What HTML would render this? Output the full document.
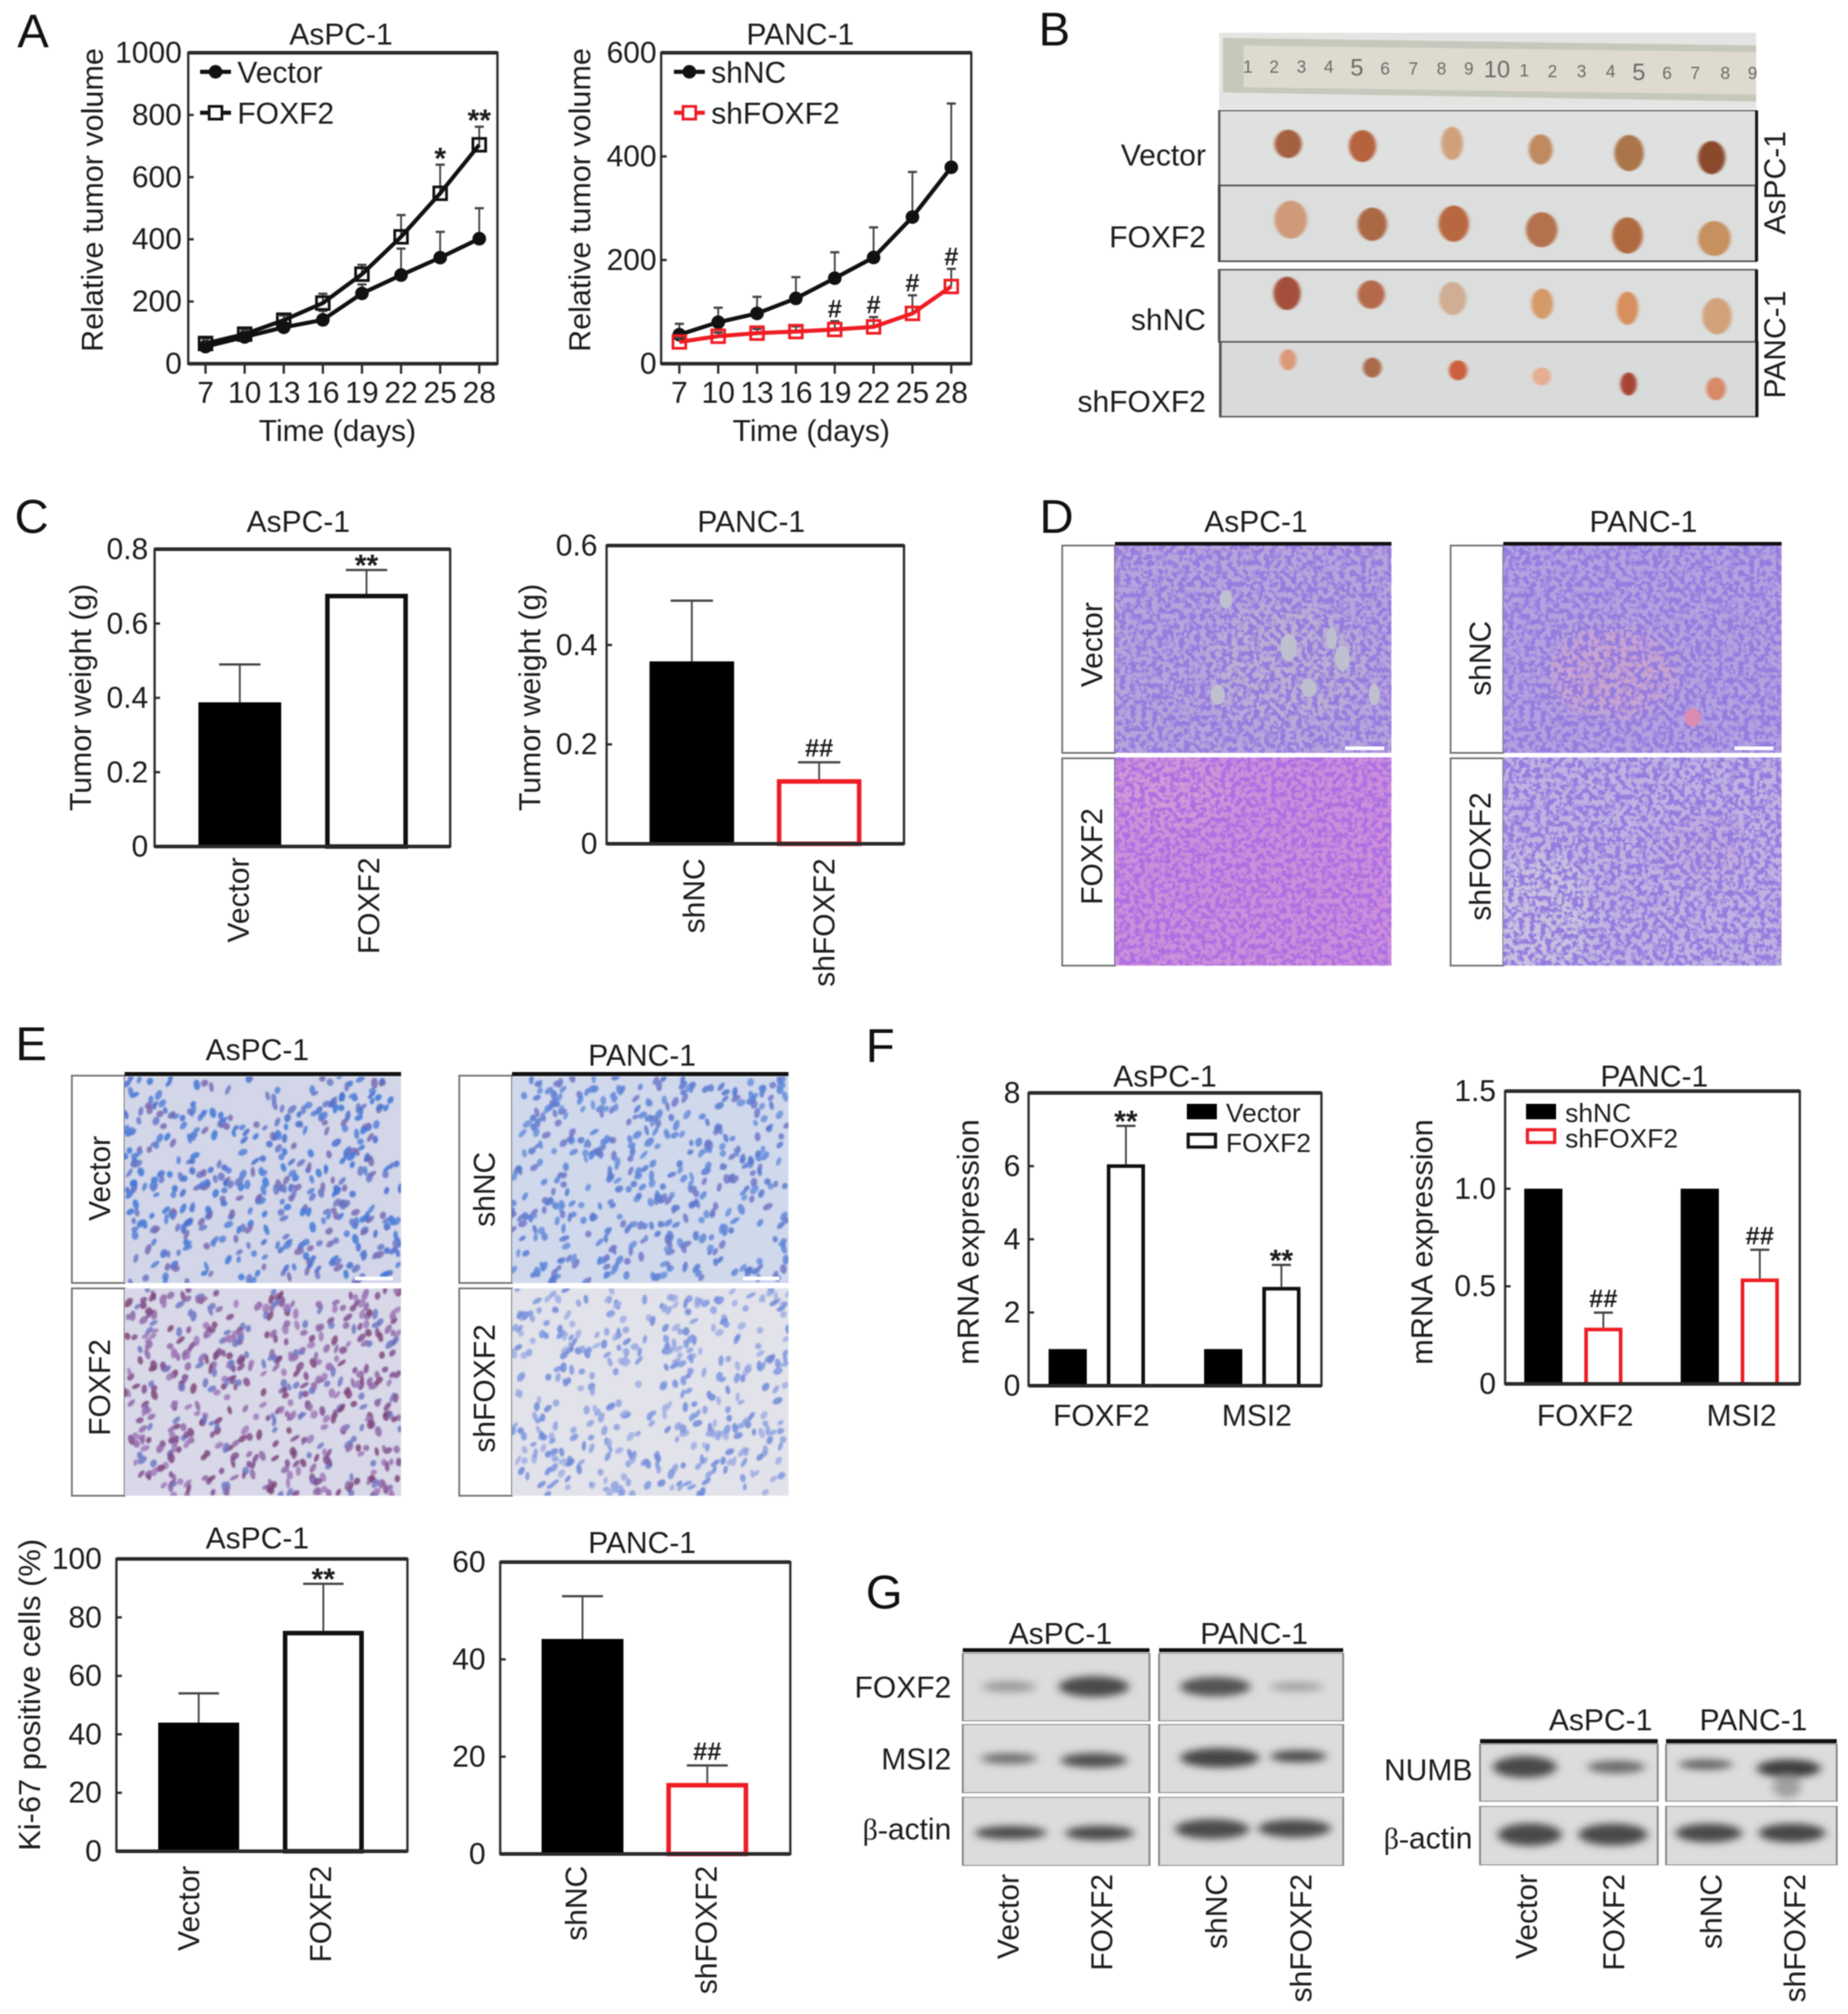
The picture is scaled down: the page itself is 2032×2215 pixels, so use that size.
<!DOCTYPE html>
<html lang="en">
<head>
<meta charset="utf-8">
<title>FOXF2 tumor figure</title>
<style>
html,body{margin:0;padding:0;background:#fff}
#fig{display:block;width:2032px;height:2215px;filter:blur(.55px)}
text{font-family:"Liberation Sans",sans-serif;fill:#1d1d1d;font-size:33px}
.letter{font-size:52px;fill:#111}
.rot{text-anchor:middle}
.mid{text-anchor:middle}
.end{text-anchor:end}
.ruler{font-size:19px;fill:#6b6b66;text-anchor:middle}
</style>
</head>
<body>
<svg id="fig" xmlns="http://www.w3.org/2000/svg" width="2032" height="2215" viewBox="0 0 2032 2215">
<defs>
<filter id="he1" x="0" y="0" width="100%" height="100%"><feTurbulence type="fractalNoise" baseFrequency=".17" numOctaves="2" seed="3"/><feColorMatrix values="0 0 0 0 .30  0 0 0 0 .20  0 0 0 0 .74  5 0 0 0 -2.1"/></filter>
<filter id="he2" x="0" y="0" width="100%" height="100%"><feTurbulence type="fractalNoise" baseFrequency=".18" numOctaves="2" seed="8"/><feColorMatrix values="0 0 0 0 .42  0 0 0 0 .16  0 0 0 0 .76  5 0 0 0 -2.1"/></filter>
<filter id="soft" x="-30%" y="-30%" width="160%" height="160%"><feGaussianBlur stdDeviation="9"/></filter>
<filter id="tum" x="-20%" y="-20%" width="140%" height="140%"><feGaussianBlur stdDeviation="3 1.5"/></filter>
<filter id="band" x="-40%" y="-60%" width="180%" height="220%"><feGaussianBlur stdDeviation="7 13"/></filter>
<filter id="nuc" x="0" y="0" width="100%" height="100%"><feGaussianBlur stdDeviation=".8"/></filter>
</defs>
<rect width="2032" height="2215" fill="#fff"/>

<!-- panel letters -->
<text class="letter" x="19" y="52">A</text>
<text class="letter" x="1142" y="50">B</text>
<text class="letter" x="16" y="586">C</text>
<text class="letter" x="1143" y="586">D</text>
<text class="letter" x="17" y="1166">E</text>
<text class="letter" x="952" y="1168">F</text>
<text class="letter" x="952" y="1769">G</text>

<!-- panel A titles -->
<text class="mid" x="375" y="49">AsPC-1</text>
<text class="mid" x="880" y="49">PANC-1</text>
<text class="rot" transform="translate(113 220) rotate(-90)" textLength="334" lengthAdjust="spacingAndGlyphs">Relative tumor volume</text>
<text class="rot" transform="translate(649 220) rotate(-90)" textLength="334" lengthAdjust="spacingAndGlyphs">Relative tumor volume</text>
<text class="mid" x="371" y="485">Time (days)</text>
<text class="mid" x="892" y="485">Time (days)</text>

<!-- panel C titles -->
<text class="mid" x="328" y="585">AsPC-1</text>
<text class="mid" x="826" y="585">PANC-1</text>
<text class="rot" transform="translate(100 767) rotate(-90)" textLength="250" lengthAdjust="spacingAndGlyphs">Tumor weight (g)</text>
<text class="rot" transform="translate(594 767) rotate(-90)" textLength="250" lengthAdjust="spacingAndGlyphs">Tumor weight (g)</text>

<!-- panel E chart titles -->
<text class="mid" x="283" y="1703">AsPC-1</text>
<text class="mid" x="706" y="1708">PANC-1</text>
<text class="rot" transform="translate(44 1864) rotate(-90)" textLength="343" lengthAdjust="spacingAndGlyphs">Ki-67 positive cells (%)</text>

<!-- panel F titles -->
<text class="mid" x="1281" y="1195">AsPC-1</text>
<text class="mid" x="1819" y="1195">PANC-1</text>
<text class="rot" transform="translate(1076 1366) rotate(-90)" textLength="270" lengthAdjust="spacingAndGlyphs">mRNA expression</text>
<text class="rot" transform="translate(1575 1366) rotate(-90)" textLength="270" lengthAdjust="spacingAndGlyphs">mRNA expression</text>

<!-- panel B photo -->
<g>
<g transform="translate(1100 0) scale(.597 .3333)">
<rect x="403" y="108" width="989" height="252" fill="#e4e5e3"/>
<polygon points="410,125 1392,150 1392,335 410,305" fill="#c6c8bc"/>
<polygon points="448,150 1392,172 1392,312 448,288" fill="#dedad0"/>
</g>
<g>
<text class="ruler" x="1372" y="80">1</text><text class="ruler" x="1401" y="80">2</text><text class="ruler" x="1431" y="80">3</text><text class="ruler" x="1461" y="80">4</text><text class="ruler" x="1492" y="83" style="font-size:26px">5</text><text class="ruler" x="1523" y="82">6</text><text class="ruler" x="1554" y="82">7</text><text class="ruler" x="1585" y="82">8</text><text class="ruler" x="1615" y="82">9</text><text class="ruler" x="1646" y="85" style="font-size:26px">10</text><text class="ruler" x="1676" y="84">1</text><text class="ruler" x="1707" y="85">2</text><text class="ruler" x="1739" y="85">3</text><text class="ruler" x="1771" y="85">4</text><text class="ruler" x="1802" y="88" style="font-size:26px">5</text><text class="ruler" x="1833" y="87">6</text><text class="ruler" x="1864" y="87">7</text><text class="ruler" x="1897" y="87">8</text><text class="ruler" x="1927" y="87">9</text>
</g>
<g transform="translate(1100 0) scale(.597 .3333)">
<rect x="403" y="365" width="989" height="247" fill="#dfe1e0" stroke="#555" stroke-width="4"/>
<rect x="403" y="612" width="989" height="250" fill="#dcdedd" stroke="#444" stroke-width="5"/>
<rect x="403" y="890" width="989" height="238" fill="#dcdedd" stroke="#555" stroke-width="5"/>
<rect x="405" y="1128" width="989" height="247" fill="#d9dbda" stroke="#555" stroke-width="5"/>
<path d="M1393 365V862M1393 890V1375" stroke="#111" stroke-width="5" fill="none"/>
<g filter="url(#tum)">
<ellipse cx="530" cy="475" rx="25" ry="47" fill="#a4603f"/><ellipse cx="667" cy="482" rx="25" ry="53" fill="#b5623c"/><ellipse cx="832" cy="473" rx="20" ry="55" fill="#d0a07c"/><ellipse cx="995" cy="493" rx="22" ry="50" fill="#c08a5e"/><ellipse cx="1158" cy="505" rx="27" ry="60" fill="#a9754a"/><ellipse cx="1310" cy="520" rx="25" ry="55" fill="#8a4a2c"/>
</g>
<g filter="url(#tum)">
<ellipse cx="535" cy="725" rx="30" ry="63" fill="#cf9a78"/><ellipse cx="685" cy="740" rx="27" ry="55" fill="#aa6844"/><ellipse cx="835" cy="738" rx="28" ry="60" fill="#b8683f"/><ellipse cx="997" cy="758" rx="29" ry="58" fill="#b4714e"/><ellipse cx="1155" cy="777" rx="28" ry="60" fill="#b06a40"/><ellipse cx="1315" cy="787" rx="30" ry="58" fill="#c6905f"/>
</g>
<g filter="url(#tum)">
<ellipse cx="528" cy="968" rx="25" ry="55" fill="#a4503a"/><ellipse cx="683" cy="972" rx="25" ry="47" fill="#b4694b"/><ellipse cx="833" cy="985" rx="25" ry="55" fill="#cfae94"/><ellipse cx="998" cy="1002" rx="20" ry="50" fill="#d49a68"/><ellipse cx="1155" cy="1017" rx="20" ry="55" fill="#d88f5e"/><ellipse cx="1320" cy="1043" rx="27" ry="60" fill="#d2a27c"/>
</g>
<g filter="url(#tum)">
<ellipse cx="530" cy="1187" rx="15" ry="35" fill="#dc9878"/><ellipse cx="685" cy="1213" rx="17" ry="33" fill="#a86a48"/><ellipse cx="843" cy="1222" rx="17" ry="33" fill="#cc5f3e"/><ellipse cx="997" cy="1242" rx="17" ry="30" fill="#e6ae92"/><ellipse cx="1157" cy="1267" rx="15" ry="38" fill="#a64530"/><ellipse cx="1318" cy="1283" rx="18" ry="38" fill="#d88a68"/>
</g>
</g>
<text class="end" x="1326" y="182">Vector</text>
<text class="end" x="1326" y="272">FOXF2</text>
<text class="end" x="1326" y="363">shNC</text>
<text class="end" x="1326" y="453">shFOXF2</text>
<text class="rot" transform="translate(1963 201) rotate(-90)">AsPC-1</text>
<text class="rot" transform="translate(1963 379) rotate(-90)">PANC-1</text>
</g>

<!-- panel D histology -->
<g>
<text class="mid" x="1381" y="585">AsPC-1</text>
<text class="mid" x="1807" y="585">PANC-1</text>
<rect x="1168" y="600" width="58" height="228" fill="#fff" stroke="#777" stroke-width="2"/>
<rect x="1168" y="834" width="58" height="228" fill="#fff" stroke="#777" stroke-width="2"/>
<rect x="1595" y="600" width="58" height="228" fill="#fff" stroke="#777" stroke-width="2"/>
<rect x="1595" y="834" width="58" height="228" fill="#fff" stroke="#777" stroke-width="2"/>
<svg x="1226" y="599" width="304" height="229">
<rect width="304" height="229" fill="#b8a4dc"/>
<ellipse cx="190" cy="130" rx="85" ry="65" fill="#bcb6d2" opacity=".6" filter="url(#soft)"/>
<rect width="304" height="229" filter="url(#he1)"/>
<ellipse cx="191" cy="113" rx="9" ry="15" fill="#bfc0cf"/><ellipse cx="238" cy="103" rx="6" ry="12" fill="#bfc0cf"/><ellipse cx="250" cy="125" rx="8" ry="14" fill="#bfc0cf"/><ellipse cx="213" cy="158" rx="8" ry="10" fill="#bfc0cf"/><ellipse cx="113" cy="165" rx="8" ry="11" fill="#bfc0cf"/><ellipse cx="285" cy="165" rx="6" ry="12" fill="#bfc0cf"/><ellipse cx="122" cy="60" rx="7" ry="10" fill="#bfc0cf"/>
<rect x="253" y="222" width="43" height="4" fill="#fff"/>
</svg>
<svg x="1226" y="833" width="304" height="229">
<rect width="304" height="229" fill="#cc8fdc"/>
<ellipse cx="60" cy="40" rx="70" ry="40" fill="#d69ed6" opacity=".6" filter="url(#soft)"/>
<rect width="304" height="229" filter="url(#he2)"/>
</svg>
<svg x="1653" y="599" width="306" height="229">
<rect width="306" height="229" fill="#b3a2e0"/>
<ellipse cx="120" cy="140" rx="70" ry="50" fill="#d0a4cc" opacity=".7" filter="url(#soft)"/>
<rect width="306" height="229" filter="url(#he1)"/>
<ellipse cx="208" cy="190" rx="9" ry="10" fill="#dc8cb0"/>
<rect x="254" y="222" width="43" height="4" fill="#fff"/>
</svg>
<svg x="1653" y="833" width="306" height="229">
<rect width="306" height="229" fill="#bfb2e2"/>
<ellipse cx="40" cy="170" rx="60" ry="70" fill="#cfc8e0" opacity=".7" filter="url(#soft)"/><ellipse cx="220" cy="100" rx="50" ry="40" fill="#c6a4dc" opacity=".6" filter="url(#soft)"/>
<rect width="306" height="229" filter="url(#he1)"/>
</svg>
<rect x="1226" y="596" width="304" height="4" fill="#111"/>
<rect x="1653" y="596" width="306" height="4" fill="#111"/>
<text class="rot" transform="translate(1212 709) rotate(-90)">Vector</text>
<text class="rot" transform="translate(1212 942) rotate(-90)">FOXF2</text>
<text class="rot" transform="translate(1639 724) rotate(-90)">shNC</text>
<text class="rot" transform="translate(1639 942) rotate(-90)">shFOXF2</text>
</g>

<!-- panel E IHC -->
<g>
<text class="mid" x="283" y="1166">AsPC-1</text>
<text class="mid" x="706" y="1172">PANC-1</text>
<rect x="79" y="1183" width="58" height="228" fill="#fff" stroke="#777" stroke-width="2"/>
<rect x="79" y="1417" width="58" height="228" fill="#fff" stroke="#777" stroke-width="2"/>
<rect x="505" y="1183" width="58" height="228" fill="#fff" stroke="#777" stroke-width="2"/>
<rect x="505" y="1417" width="58" height="228" fill="#fff" stroke="#777" stroke-width="2"/>
<svg id="ihc1" x="137" y="1184" width="304" height="227"></svg>
<svg id="ihc2" x="137" y="1417" width="304" height="228"></svg>
<svg id="ihc3" x="563" y="1184" width="304" height="227"></svg>
<svg id="ihc4" x="563" y="1417" width="304" height="228"></svg>
<rect x="137" y="1179" width="304" height="4.5" fill="#111"/>
<rect x="563" y="1179" width="304" height="4.5" fill="#111"/>
<rect x="390" y="1404" width="42" height="4" fill="#fff"/>
<rect x="817" y="1404" width="40" height="4" fill="#fff"/>
<text class="rot" transform="translate(121 1296) rotate(-90)">Vector</text>
<text class="rot" transform="translate(121 1526) rotate(-90)">FOXF2</text>
<text class="rot" transform="translate(544 1308) rotate(-90)">shNC</text>
<text class="rot" transform="translate(544 1527) rotate(-90)">shFOXF2</text>
</g>

<!-- panel G blots -->
<g>
<g transform="translate(930 1720) scale(.703 .3333)">
<g fill="#dcdcdc" stroke="#888" stroke-width="3">
<rect x="183" y="295" width="292" height="223"/><rect x="490" y="295" width="288" height="223"/>
<rect x="183" y="530" width="292" height="225"/><rect x="490" y="530" width="288" height="225"/>
<rect x="183" y="770" width="292" height="225"/><rect x="490" y="770" width="288" height="225"/>
<rect x="992" y="595" width="278" height="188"/><rect x="1283" y="595" width="267" height="188"/>
<rect x="992" y="800" width="278" height="193"/><rect x="1283" y="800" width="267" height="193"/>
</g>
<g filter="url(#band)">
<ellipse cx="255" cy="405" rx="42" ry="18" fill="#9a9a9a"/><ellipse cx="388" cy="405" rx="55" ry="34" fill="#484848"/><ellipse cx="578" cy="405" rx="55" ry="32" fill="#525252"/><ellipse cx="705" cy="405" rx="42" ry="15" fill="#a0a0a0"/>
<ellipse cx="255" cy="642" rx="44" ry="17" fill="#6a6a6a"/><ellipse cx="388" cy="648" rx="52" ry="24" fill="#505050"/><ellipse cx="585" cy="640" rx="62" ry="32" fill="#444"/><ellipse cx="708" cy="635" rx="44" ry="20" fill="#4c4c4c"/>
<ellipse cx="258" cy="887" rx="56" ry="22" fill="#484848"/><ellipse cx="397" cy="888" rx="54" ry="24" fill="#484848"/><ellipse cx="573" cy="875" rx="58" ry="33" fill="#4c4c4c"/><ellipse cx="702" cy="873" rx="57" ry="30" fill="#4c4c4c"/>
<ellipse cx="1062" cy="670" rx="50" ry="36" fill="#484848"/><ellipse cx="1205" cy="670" rx="45" ry="21" fill="#6a6a6a"/><ellipse cx="1345" cy="662" rx="42" ry="16" fill="#5c5c5c"/><ellipse cx="1475" cy="675" rx="50" ry="30" fill="#3e3e3e"/><ellipse cx="1472" cy="735" rx="22" ry="38" fill="#a0a0a0"/>
<ellipse cx="1070" cy="893" rx="50" ry="37" fill="#484848"/><ellipse cx="1200" cy="893" rx="54" ry="36" fill="#484848"/><ellipse cx="1350" cy="888" rx="52" ry="31" fill="#484848"/><ellipse cx="1480" cy="888" rx="52" ry="31" fill="#444"/>
</g>
<g fill="#111"><rect x="183" y="278" width="292" height="13"/><rect x="490" y="278" width="288" height="13"/><rect x="992" y="578" width="278" height="14"/><rect x="1283" y="578" width="267" height="14"/></g>
</g>
<text class="mid" x="1166" y="1808">AsPC-1</text>
<text class="mid" x="1379" y="1808">PANC-1</text>
<text class="mid" x="1760" y="1903">AsPC-1</text>
<text class="mid" x="1928" y="1903">PANC-1</text>
<text class="end" x="1046" y="1867">FOXF2</text>
<text class="end" x="1046" y="1946">MSI2</text>
<text class="end" x="1046" y="2023" style="font-family:'Liberation Serif','Liberation Sans',serif">β-<tspan style="font-family:'Liberation Sans',sans-serif">actin</tspan></text>
<text class="end" x="1619" y="1958">NUMB</text>
<text class="end" x="1619" y="2033" style="font-family:'Liberation Serif','Liberation Sans',serif">β-<tspan style="font-family:'Liberation Sans',sans-serif">actin</tspan></text>
<text class="end" transform="translate(1120 2061) rotate(-90)">Vector</text>
<text class="end" transform="translate(1223 2061) rotate(-90)">FOXF2</text>
<text class="end" transform="translate(1349 2061) rotate(-90)">shNC</text>
<text class="end" transform="translate(1442 2061) rotate(-90)">shFOXF2</text>
<text class="end" transform="translate(1690 2061) rotate(-90)">Vector</text>
<text class="end" transform="translate(1786 2061) rotate(-90)">FOXF2</text>
<text class="end" transform="translate(1893 2061) rotate(-90)">shNC</text>
<text class="end" transform="translate(1985 2061) rotate(-90)">shFOXF2</text>
</g>

<g id="charts"></g>
</svg>

<script>
// ---- Panel A data ----
const days = [7, 10, 13, 16, 19, 22, 25, 28];
const aVolumeTicksAspc = [0, 200, 400, 600, 800, 1000];
const aVectorVolume = [55, 86, 117, 141, 226, 285, 341, 402];
const aVectorErr = [15, 14, 13, 29, 29, 85, 83, 98];
const aFoxf2Volume = [65, 95, 140, 195, 288, 408, 548, 704];
const aFoxf2Err = [15, 15, 15, 30, 30, 70, 92, 58];
const aFoxf2Sig = ['', '', '', '', '', '', '*', '**'];
const aVolumeTicksPanc = [0, 200, 400, 600];
const aShncVolume = [56, 80, 97, 126, 165, 205, 283, 379];
const aShncErr = [21, 28, 32, 41, 50, 58, 87, 123];
const aShfoxf2Volume = [42, 53, 59, 62, 66, 71, 97, 149];
const aShfoxf2Err = [8, 7, 8, 10, 16, 19, 35, 34];
const aShfoxf2Sig = ['', '', '', '', '#', '#', '#', '#'];

// ---- Panel C data ----
const cCatsAspc = ['Vector', 'FOXF2'];
const cWeightAspc = [0.388, 0.68];
const cWeightAspcErr = [0.102, 0.064];
const cSigAspc = ['', '**'];
const cTicksAspc = ['0', '0.2', '0.4', '0.6', '0.8'];
const cCatsPanc = ['shNC', 'shFOXF2'];
const cWeightPanc = [0.367, 0.13];
const cWeightPancErr = [0.122, 0.034];
const cSigPanc = ['', '##'];
const cTicksPanc = ['0', '0.2', '0.4', '0.6'];

// ---- Panel E data ----
const eCatsAspc = ['Vector', 'FOXF2'];
const eKi67Aspc = [44, 75.4];
const eKi67AspcErr = [10, 16.1];
const eSigAspc = ['', '**'];
const eTicksAspc = ['0', '20', '40', '60', '80', '100'];
const eCatsPanc = ['shNC', 'shFOXF2'];
const eKi67Panc = [44.2, 14.6];
const eKi67PancErr = [8.8, 3.6];
const eSigPanc = ['', '##'];
const eTicksPanc = ['0', '20', '40', '60'];

// ---- Panel F data ----
const fGenes = ['FOXF2', 'MSI2'];
const fTicksAspc = ['0', '2', '4', '6', '8'];
const fVectorExpr = [1, 1];
const fFoxf2Expr = [6.05, 2.7];
const fFoxf2Err = [1.05, 0.6];
const fFoxf2Sig = ['**', '**'];
const fTicksPanc = ['0', '0.5', '1.0', '1.5'];
const fShncExpr = [1, 1];
const fShfoxf2Expr = [0.288, 0.54];
const fShfoxf2Err = [0.077, 0.147];
const fShfoxf2Sig = ['##', '##'];

const NS = 'http://www.w3.org/2000/svg';
const root = document.getElementById('charts');

function shape(tag, name, parent, attrs) {
  const el = document.createElementNS(NS, tag);
  
  
  for (const k in attrs) el.setAttribute(k, attrs[k]);
  parent.appendChild(el);
  return el;
}
function label(name, parent, x, y, str, attrs) {
  const el = shape('text', name, parent, Object.assign({x: x, y: y}, attrs || {}));
  el.textContent = str;
  return el;
}
function rotLabel(name, parent, x, y, str) {
  const el = shape('text', name, parent, {'text-anchor': 'end', transform: 'translate(' + x + ' ' + y + ') rotate(-90)'});
  el.textContent = str;
  return el;
}
function linearY(box, max) {
  return function (v) { return box.b - (v / max) * (box.b - box.t); };
}
function frame(parent, box) {
  shape('rect', 'plot-frame', parent, {x: box.l, y: box.t, width: box.r - box.l, height: box.b - box.t, fill: 'none', stroke: '#2a2a2a', 'stroke-width': 2.5});
  shape('line', 'plot-frame-top', parent, {x1: box.l, x2: box.r, y1: box.t, y2: box.t, stroke: '#2a2a2a', 'stroke-width': 4});
  shape('line', 'x-axis-line', parent, {x1: box.l, x2: box.r, y1: box.b, y2: box.b, stroke: '#2a2a2a', 'stroke-width': 4});
}
function yAxis(parent, box, y, values, labels, labelRight) {
  values.forEach(function (v, i) {
    shape('line', 'y-tick', parent, {x1: box.l, x2: box.l + 6, y1: y(v), y2: y(v), stroke: '#2a2a2a', 'stroke-width': 2.5});
    label('y-tick-label', parent, labelRight, y(v) + 11, labels[i], {'text-anchor': 'end'});
  });
}
function errorBar(parent, x, y, mean, err, capHalf, color) {
  shape('line', 'error-bar', parent, {x1: x, x2: x, y1: y(mean), y2: y(mean + err), stroke: color, 'stroke-width': 2});
  shape('line', 'error-cap', parent, {x1: x - capHalf, x2: x + capHalf, y1: y(mean + err), y2: y(mean + err), stroke: color, 'stroke-width': 2.5});
}
function sigMark(parent, x, yc, str) {
  if (!str) return;
  const hash = str.indexOf('#') >= 0;
  const size = hash ? 28 : 33;
  const base = hash ? yc + size * 0.35 : yc + size * 0.55;
  label('significance-mark', parent, x, base, str, {'text-anchor': 'middle', 'font-weight': 'bold', style: 'font-size:' + size + 'px'});
}

function lineChart(cfg) {
  const g = shape('g', cfg.name, root, {});
  const y = linearY(cfg.box, cfg.max);
  const x = function (d) {
    return cfg.x7 + (d - cfg.days[0]) / (cfg.days[cfg.days.length - 1] - cfg.days[0]) * (cfg.x28 - cfg.x7);
  };
  frame(g, cfg.box);
  yAxis(g, cfg.box, y, cfg.ticks, cfg.ticks.map(String), cfg.labelRight);
  cfg.days.forEach(function (d) {
    shape('line', 'x-tick', g, {x1: x(d), x2: x(d), y1: cfg.box.b, y2: cfg.box.b + 11, stroke: '#2a2a2a', 'stroke-width': 2.5});
    label('x-tick-label', g, x(d), 443, String(d), {'text-anchor': 'middle'});
  });
  cfg.series.forEach(function (s) {
    const sg = shape('g', 'series-' + s.key, g, {});
    s.values.forEach(function (v, i) {
      errorBar(sg, x(cfg.days[i]), y, v, s.errs[i], 5, '#444');
    });
    const pts = s.values.map(function (v, i) { return x(cfg.days[i]) + ',' + y(v); }).join(' ');
    shape('polyline', 'line-' + s.key, sg, {points: pts, fill: 'none', stroke: s.color, 'stroke-width': 4.5});
    s.values.forEach(function (v, i) {
      const px = x(cfg.days[i]), py = y(v);
      if (s.marker === 'circle') {
        shape('circle', 'point-' + s.key, sg, {cx: px, cy: py, r: 7.5, fill: s.color});
      } else {
        shape('rect', 'point-' + s.key, sg, {x: px - 7, y: py - 7, width: 14, height: 14, fill: 'none', stroke: s.color, 'stroke-width': 3});
      }
      if (s.sig && s.sig[i]) sigMark(sg, px, y(v + s.errs[i]) - 14, s.sig[i]);
    });
    const lg = shape('g', 'legend-entry-' + s.key, g, {});
    shape('line', 'legend-line', lg, {x1: s.legendX, x2: s.legendX + 34, y1: s.legendY, y2: s.legendY, stroke: s.color, 'stroke-width': 4.5});
    if (s.marker === 'circle') {
      shape('circle', 'legend-marker', lg, {cx: s.legendX + 17, cy: s.legendY, r: 7.5, fill: s.color});
    } else {
      shape('rect', 'legend-marker', lg, {x: s.legendX + 10, y: s.legendY - 7, width: 14, height: 14, fill: '#fff', stroke: s.color, 'stroke-width': 3});
    }
    label('legend-label', lg, s.legendX + 41, s.legendY + 12, s.title);
  });
}

const BLACK = {fill: '#000', stroke: '#000', sw: 0};
const OPEN = {fill: '#fff', stroke: '#111', sw: 5};
const RED = {fill: '#fff', stroke: '#ef1c24', sw: 5};
const OPEN_F = {fill: '#fff', stroke: '#111', sw: 4};
const RED_F = {fill: '#fff', stroke: '#ef1c24', sw: 4};

function drawBar(parent, box, y, cx, w, value, err, style, sig) {
  const top = y(value);
  const inset = style.sw / 2;
  shape('rect', 'bar', parent, {x: cx - w / 2 + inset, y: top + inset, width: w - style.sw, height: Math.max(0, box.b - top - inset), fill: style.fill, stroke: style.sw ? style.stroke : 'none', 'stroke-width': style.sw});
  if (err) {
    errorBar(parent, cx, y, value, err, w * 0.25, '#444');
    sigMark(parent, cx, y(value + err) - (sig && sig.indexOf('#') >= 0 ? 16 : 12), sig);
  }
}

function simpleBars(cfg) {
  const g = shape('g', cfg.name, root, {});
  const y = linearY(cfg.box, cfg.max);
  const tickVals = cfg.ticks.map(Number);
  yAxis(g, cfg.box, y, tickVals, cfg.ticks, cfg.labelRight);
  cfg.values.forEach(function (v, i) {
    const cx = cfg.c0 + i * cfg.step;
    drawBar(g, cfg.box, y, cx, cfg.w, v, cfg.errs[i], cfg.styles[i], cfg.sig[i]);
    rotLabel('x-category-label', g, cx + cfg.labelDx[i], cfg.labelY, cfg.cats[i]);
  });
  frame(g, cfg.box);
}

function groupedBars(cfg) {
  const g = shape('g', cfg.name, root, {});
  const y = linearY(cfg.box, cfg.max);
  const tickVals = cfg.ticks.map(Number);
  yAxis(g, cfg.box, y, tickVals, cfg.ticks, cfg.labelRight);
  cfg.cats.forEach(function (cat, i) {
    const cx = cfg.c0 + i * cfg.step;
    drawBar(g, cfg.box, y, cx - cfg.off, cfg.w, cfg.base[i], 0, BLACK, '');
    drawBar(g, cfg.box, y, cx + cfg.off, cfg.w, cfg.values[i], cfg.errs[i], cfg.style, cfg.sig[i]);
    label('x-category-label', g, cx + cfg.labelDx, 1568, cat, {'text-anchor': 'middle'});
  });
  frame(g, cfg.box);
  const lg = shape('g', 'legend', g, {});
  shape('rect', 'legend-swatch-control', lg, {x: cfg.lx, y: 1214, width: 33, height: 17, fill: '#000'});
  label('legend-label-control', lg, cfg.lx + 43, 1234, cfg.legend[0], {style: 'font-size:29px'});
  shape('rect', 'legend-swatch-treated', lg, {x: cfg.lx + 1.5, y: cfg.ly2 + 1.5, width: 30, height: 14, fill: '#fff', stroke: cfg.style.stroke, 'stroke-width': 3.5});
  label('legend-label-treated', lg, cfg.lx + 43, cfg.ly2 + 21, cfg.legend[1], {style: 'font-size:29px'});
}

lineChart({name: 'tumor-volume-aspc-chart', box: {l: 207, r: 547, t: 58, b: 400}, max: 1000, ticks: aVolumeTicksAspc, days: days, x7: 226, x28: 527, labelRight: 200, series: [
  {key: 'vector', title: 'Vector', values: aVectorVolume, errs: aVectorErr, color: '#111', marker: 'circle', legendX: 220, legendY: 79},
  {key: 'foxf2', title: 'FOXF2', values: aFoxf2Volume, errs: aFoxf2Err, sig: aFoxf2Sig, color: '#111', marker: 'square', legendX: 220, legendY: 124}
]});
lineChart({name: 'tumor-volume-panc-chart', box: {l: 727, r: 1068, t: 58, b: 400}, max: 600, ticks: aVolumeTicksPanc, days: days, x7: 747, x28: 1046, labelRight: 722, series: [
  {key: 'shnc', title: 'shNC', values: aShncVolume, errs: aShncErr, color: '#111', marker: 'circle', legendX: 741, legendY: 79},
  {key: 'shfoxf2', title: 'shFOXF2', values: aShfoxf2Volume, errs: aShfoxf2Err, sig: aShfoxf2Sig, color: '#ef1c24', marker: 'square', legendX: 741, legendY: 124}
]});

simpleBars({name: 'tumor-weight-aspc-chart', box: {l: 170, r: 495, t: 604, b: 931}, max: 0.8, ticks: cTicksAspc, labelRight: 163, cats: cCatsAspc, values: cWeightAspc, errs: cWeightAspcErr, sig: cSigAspc, styles: [BLACK, OPEN], c0: 263.7, step: 139.3, w: 91, labelDx: [10, 14], labelY: 943});
simpleBars({name: 'tumor-weight-panc-chart', box: {l: 667, r: 994, t: 600, b: 928}, max: 0.6, ticks: cTicksPanc, labelRight: 657, cats: cCatsPanc, values: cWeightPanc, errs: cWeightPancErr, sig: cSigPanc, styles: [BLACK, RED], c0: 760.7, step: 140, w: 93, labelDx: [14, 17], labelY: 944});
simpleBars({name: 'ki67-aspc-chart', box: {l: 128, r: 448, t: 1714.5, b: 2036}, max: 100, ticks: eTicksAspc, labelRight: 112, cats: eCatsAspc, values: eKi67Aspc, errs: eKi67AspcErr, sig: eSigAspc, styles: [BLACK, OPEN], c0: 218.5, step: 137, w: 89, labelDx: [0.5, 8.5], labelY: 2052});
simpleBars({name: 'ki67-panc-chart', box: {l: 550, r: 869, t: 1718, b: 2039}, max: 60, ticks: eTicksPanc, labelRight: 534, cats: eCatsPanc, values: eKi67Panc, errs: eKi67PancErr, sig: eSigPanc, styles: [BLACK, RED], c0: 640.5, step: 137.2, w: 90, labelDx: [4.5, 10.3], labelY: 2052});

groupedBars({name: 'mrna-aspc-chart', box: {l: 1131, r: 1453, t: 1202, b: 1524}, max: 8, ticks: fTicksAspc, labelRight: 1122, cats: fGenes, base: fVectorExpr, values: fFoxf2Expr, errs: fFoxf2Err, sig: fFoxf2Sig, style: OPEN_F, c0: 1206, step: 171, off: 32, w: 42, labelDx: 5, legend: ['Vector', 'FOXF2'], lx: 1305, ly2: 1246});
groupedBars({name: 'mrna-panc-chart', box: {l: 1655, r: 1979, t: 1200, b: 1522}, max: 1.5, ticks: fTicksPanc, labelRight: 1645, cats: fGenes, base: fShncExpr, values: fShfoxf2Expr, errs: fShfoxf2Err, sig: fShfoxf2Sig, style: RED_F, c0: 1730, step: 172, off: 33, w: 42, labelDx: 13, legend: ['shNC', 'shFOXF2'], lx: 1678, ly2: 1241});

// ---- IHC photograph texture (decorative stand-in, not chart data) ----
function texture(id, bg, count, palette) {
  const host = document.getElementById(id);
  const W = +host.getAttribute('width'), H = +host.getAttribute('height');
  shape('rect', 'ihc-background', host, {width: W, height: H, fill: bg});
  const cells = shape('g', 'ihc-nuclei', host, {filter: 'url(#nuc)'});
  let s = id.charCodeAt(3) * 7919;
  function rnd() { s = (s * 16807) % 2147483647; return s / 2147483647; }
  const frag = document.createDocumentFragment();
  for (let i = 0; i < count; i++) {
    const px = rnd() * W, py = rnd() * H;
    const c = palette[Math.floor(rnd() * palette.length)];
    const e = document.createElementNS(NS, 'ellipse');
    e.setAttribute('cx', px.toFixed(1));
    e.setAttribute('cy', py.toFixed(1));
    e.setAttribute('rx', (2.2 + rnd() * 1.6).toFixed(1));
    e.setAttribute('ry', (3.5 + rnd() * 2.5).toFixed(1));
    e.setAttribute('fill', c);
    e.setAttribute('opacity', '.85');
    e.setAttribute('transform', 'rotate(' + (rnd() * 90 - 20).toFixed(0) + ' ' + px.toFixed(1) + ' ' + py.toFixed(1) + ')');
    frag.appendChild(e);
  }
  cells.appendChild(frag);
}
texture('ihc1', '#d2d6e8', 440, ['#4a6fd0', '#5580d8', '#6a78c8', '#7a6ab0', '#3f78d8']);
texture('ihc2', '#d8d8e8', 520, ['#80508e', '#8f6aa8', '#6f78c4', '#a07ab8', '#7e4478']);
texture('ihc3', '#d0d8ec', 440, ['#5e86d8', '#6a90dc', '#7078c8', '#5a7ad0']);
texture('ihc4', '#e2e2ea', 380, ['#8ea2e0', '#7c96e0', '#a0aee4', '#6f8ad8']);
</script>
</body>
</html>
